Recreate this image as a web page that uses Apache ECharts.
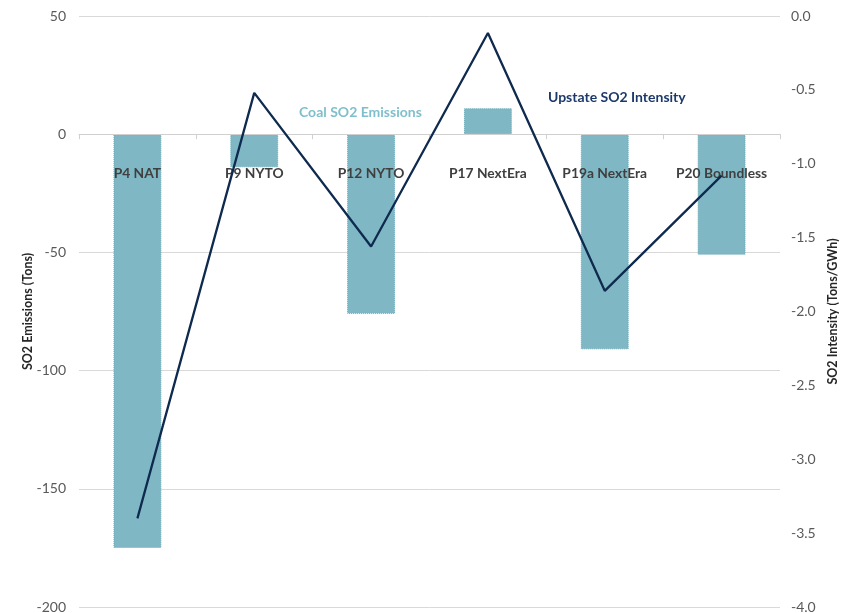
<!DOCTYPE html>
<html>
<head>
<meta charset="utf-8">
<script src="https://cdn.jsdelivr.net/npm/echarts@6/dist/echarts.min.js"></script>
<style>
  html, body { margin: 0; padding: 0; background: #ffffff; }
  #chart { width: 852px; height: 613px; }
</style>
</head>
<body>
<div id="chart"></div>
<script>
// Project categories
const categories = ['P4 NAT', 'P9 NYTO', 'P12 NYTO', 'P17 NextEra', 'P19a NextEra', 'P20 Boundless'];
// Change in coal SO2 emissions (tons), left axis
const coalEmissions = [-175, -14, -76, 11, -91, -51];
// Change in upstate SO2 intensity (tons/GWh), right axis
const upstateIntensity = [-3.40, -0.52, -1.56, -0.115, -1.86, -1.08];
// Left axis range
const leftMin = -200, leftMax = 50;

const font = 'Lato, "Open Sans", sans-serif';
const gridTop = 16, gridBottom = 6, chartHeight = 613;
const plotHeight = chartHeight - gridTop - gridBottom;
// Category axis sits on the zero line of the left axis
const zeroFromBottom = plotHeight * (0 - leftMin) / (leftMax - leftMin);

const chart = echarts.init(document.getElementById('chart'));

chart.setOption({
  animation: false,
  backgroundColor: '#ffffff',
  textStyle: { fontFamily: font },
  grid: { left: 79, right: 72, top: gridTop, bottom: gridBottom, containLabel: false, outerBoundsMode: 'none' },
  xAxis: {
    type: 'category',
    data: categories,
    z: 10,
    offset: -zeroFromBottom,
    axisLine: { onZero: false, lineStyle: { color: '#d0d0d0', width: 1 } },
    axisTick: { show: true, alignWithLabel: false, length: 5, lineStyle: { color: '#d0d0d0' } },
    axisLabel: { interval: 0, hideOverlap: false, margin: 32, color: '#3f3f3f', fontWeight: 'bold', fontSize: 13.8, fontFamily: font },
    splitLine: { show: false }
  },
  yAxis: [
    {
      type: 'value',
      min: leftMin, max: leftMax, interval: 50,
      name: 'SO2 Emissions (Tons)',
      nameLocation: 'middle',
      nameGap: 45,
      nameMoveOverlap: false,
      nameTextStyle: { color: '#262626', fontWeight: 'bold', fontSize: 12.5, fontFamily: font },
      axisLine: { show: false },
      axisTick: { show: false },
      axisLabel: { margin: 13, color: '#595959', fontSize: 14, fontFamily: font },
      splitLine: { show: true, lineStyle: { color: '#d9d9d9', width: 1 } }
    },
    {
      type: 'value',
      min: -4, max: 0, interval: 0.5,
      name: 'SO2 Intensity (Tons/GWh)',
      nameLocation: 'middle',
      nameGap: 46,
      nameTextStyle: { color: '#262626', fontWeight: 'bold', fontSize: 12.5, fontFamily: font },
      axisLine: { show: false },
      axisTick: { show: false },
      axisLabel: { margin: 11, color: '#595959', fontSize: 14, fontFamily: font,
                   formatter: v => v.toFixed(1) },
      splitLine: { show: false }
    }
  ],
  series: [
    {
      name: 'Coal SO2 Emissions',
      type: 'bar',
      yAxisIndex: 0,
      data: coalEmissions,
      barWidth: '41%',
      z: 2,
      itemStyle: { color: '#7fb8c4', borderColor: '#6aa8b6', borderWidth: 1, borderType: 'dotted' }
    },
    {
      name: 'Upstate SO2 Intensity',
      type: 'line',
      yAxisIndex: 1,
      data: upstateIntensity,
      z: 20,
      symbol: 'none',
      lineStyle: { color: '#0f2a4f', width: 2.3 }
    }
  ],
  graphic: [
    {
      type: 'text', left: 299, top: 105, z: 30,
      style: { text: 'Coal SO2 Emissions', fill: '#7fbfcc', font: 'bold 14px ' + font }
    },
    {
      type: 'text', left: 548, top: 90, z: 30,
      style: { text: 'Upstate SO2 Intensity', fill: '#1b3a6b', font: 'bold 14px ' + font }
    }
  ]
});
</script>
</body>
</html>
